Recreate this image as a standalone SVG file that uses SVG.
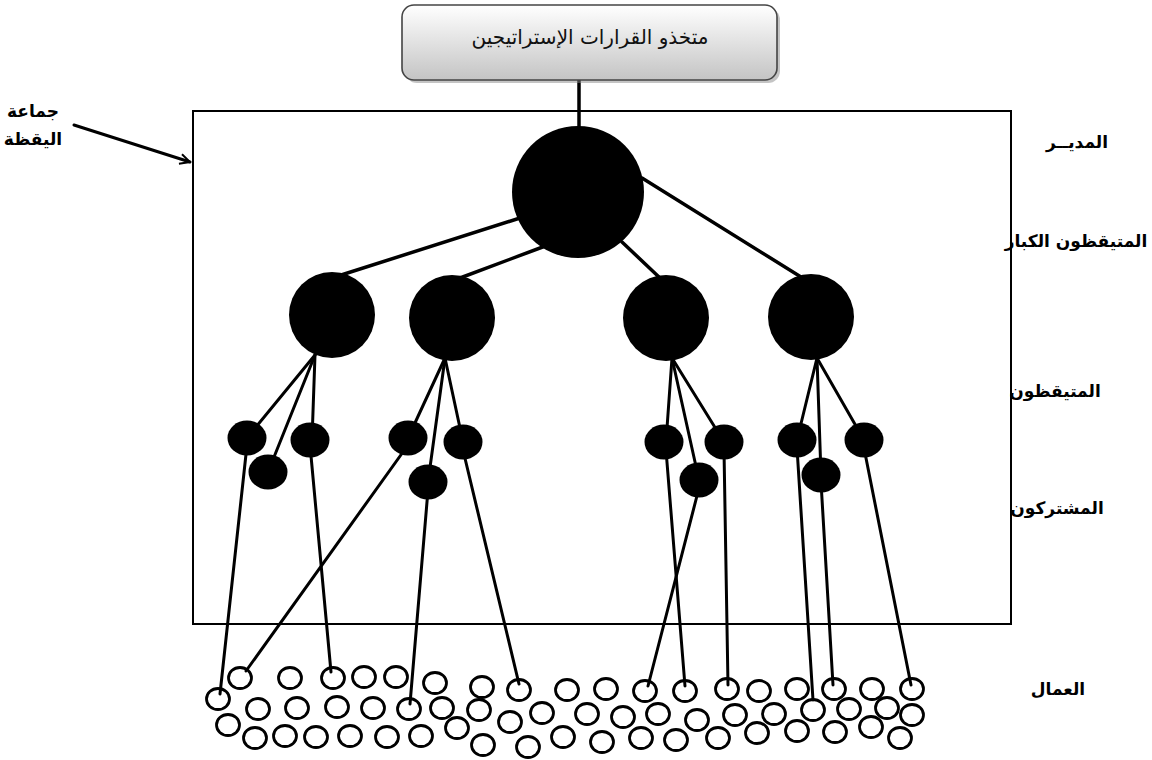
<svg xmlns="http://www.w3.org/2000/svg" width="1152" height="760" viewBox="0 0 1152 760">
<defs>
<linearGradient id="boxg" x1="0" y1="0" x2="0" y2="1">
<stop offset="0" stop-color="#ffffff"/>
<stop offset="1" stop-color="#c4c4c4"/>
</linearGradient>
<marker id="arr" viewBox="0 0 12 12" refX="11" refY="6" markerWidth="12" markerHeight="12" markerUnits="userSpaceOnUse" orient="auto">
<path d="M1,1 L11,6 L1,11" fill="none" stroke="#000" stroke-width="2"/>
</marker>
<style>
.lbl{font-family:"DejaVu Sans",sans-serif;font-weight:bold;font-size:17px;fill:#000;text-anchor:middle}
.e1{stroke:#000;stroke-width:3.5;fill:none;stroke-linecap:round}
.e2{stroke:#000;stroke-width:3;fill:none;stroke-linecap:round}
.big{fill:#000}
.w{fill:none;stroke:#000;stroke-width:2.8}
</style>
</defs>
<rect width="1152" height="760" fill="#ffffff"/>

<g id="frame">
<rect x="193" y="111" width="818" height="513" fill="none" stroke="#000" stroke-width="2"/>
</g>

<g id="connectors">
<line class="e1" x1="579" y1="80" x2="579" y2="132"/>
<line class="e1" x1="520" y1="218" x2="338" y2="276"/>
<line class="e1" x1="548" y1="245" x2="460" y2="278"/>
<line class="e1" x1="622" y1="242" x2="660" y2="278"/>
<line class="e1" x1="642" y1="178" x2="801" y2="277"/>
<line class="e2" x1="315" y1="355" x2="247" y2="438"/>
<line class="e2" x1="315" y1="355" x2="268" y2="472"/>
<line class="e2" x1="315" y1="355" x2="312" y2="440"/>
<line class="e2" x1="445" y1="358" x2="408" y2="438"/>
<line class="e2" x1="445" y1="358" x2="428" y2="482"/>
<line class="e2" x1="445" y1="358" x2="463" y2="442"/>
<line class="e2" x1="672" y1="358" x2="666" y2="442"/>
<line class="e2" x1="672" y1="358" x2="699" y2="480"/>
<line class="e2" x1="672" y1="358" x2="724" y2="442"/>
<line class="e2" x1="817" y1="358" x2="797" y2="440"/>
<line class="e2" x1="817" y1="358" x2="821" y2="475"/>
<line class="e2" x1="817" y1="358" x2="864" y2="440"/>
<line class="e2" x1="247" y1="445" x2="220" y2="694"/>
<line class="e2" x1="408" y1="445" x2="246" y2="671"/>
<line class="e2" x1="310" y1="445" x2="331" y2="672"/>
<line class="e2" x1="428" y1="490" x2="410" y2="704"/>
<line class="e2" x1="463" y1="450" x2="519" y2="684"/>
<line class="e2" x1="699" y1="488" x2="648" y2="686"/>
<line class="e2" x1="666" y1="450" x2="685" y2="686"/>
<line class="e2" x1="724" y1="450" x2="728" y2="685"/>
<line class="e2" x1="797" y1="448" x2="813" y2="700"/>
<line class="e2" x1="821" y1="482" x2="833" y2="685"/>
<line class="e2" x1="864" y1="448" x2="911" y2="685"/>
<line class="e2" x1="74" y1="125" x2="190" y2="162" marker-end="url(#arr)"/>
</g>

<g id="decision-makers">
<rect x="405" y="8" width="375" height="75" rx="12" fill="#8a8a8a" opacity="0.5"/>
<rect x="402" y="5" width="375" height="75" rx="12" fill="url(#boxg)" stroke="#444" stroke-width="1.6"/>
<text x="590" y="44" font-family="'DejaVu Sans',sans-serif" font-size="20" text-anchor="middle" fill="#111">متخذو القرارات الإستراتيجين</text>
</g>

<g id="manager"><circle class="big" cx="578" cy="192" r="66"/></g>

<g id="senior-vigilant">
<circle class="big" cx="332" cy="315" r="43"/>
<circle class="big" cx="452" cy="318" r="43"/>
<circle class="big" cx="666" cy="318" r="43"/>
<circle class="big" cx="811" cy="317" r="43"/>
</g>

<g id="vigilant">
<ellipse class="big" cx="247" cy="438" rx="19.5" ry="17.5"/>
<ellipse class="big" cx="268" cy="472" rx="19.5" ry="17.5"/>
<ellipse class="big" cx="310" cy="440" rx="19.5" ry="17.5"/>
<ellipse class="big" cx="408" cy="438" rx="19.5" ry="17.5"/>
<ellipse class="big" cx="428" cy="482" rx="19.5" ry="17.5"/>
<ellipse class="big" cx="463" cy="442" rx="19.5" ry="17.5"/>
<ellipse class="big" cx="664" cy="442" rx="19.5" ry="17.5"/>
<ellipse class="big" cx="699" cy="480" rx="19.5" ry="17.5"/>
<ellipse class="big" cx="724" cy="442" rx="19.5" ry="17.5"/>
<ellipse class="big" cx="797" cy="440" rx="19.5" ry="17.5"/>
<ellipse class="big" cx="821" cy="475" rx="19.5" ry="17.5"/>
<ellipse class="big" cx="864" cy="440" rx="19.5" ry="17.5"/>
</g>

<g id="workers">
<ellipse class="w" cx="240" cy="678" rx="11.5" ry="10.5"/>
<ellipse class="w" cx="290" cy="678" rx="11.5" ry="10.5"/>
<ellipse class="w" cx="333" cy="678" rx="11.5" ry="10.5"/>
<ellipse class="w" cx="364" cy="677" rx="11.5" ry="10.5"/>
<ellipse class="w" cx="396" cy="677" rx="11.5" ry="10.5"/>
<ellipse class="w" cx="435" cy="683" rx="11.5" ry="10.5"/>
<ellipse class="w" cx="482" cy="687" rx="11.5" ry="10.5"/>
<ellipse class="w" cx="519" cy="690" rx="11.5" ry="10.5"/>
<ellipse class="w" cx="567" cy="690" rx="11.5" ry="10.5"/>
<ellipse class="w" cx="606" cy="689" rx="11.5" ry="10.5"/>
<ellipse class="w" cx="645" cy="691" rx="11.5" ry="10.5"/>
<ellipse class="w" cx="685" cy="691" rx="11.5" ry="10.5"/>
<ellipse class="w" cx="727" cy="689" rx="11.5" ry="10.5"/>
<ellipse class="w" cx="759" cy="691" rx="11.5" ry="10.5"/>
<ellipse class="w" cx="797" cy="689" rx="11.5" ry="10.5"/>
<ellipse class="w" cx="834" cy="689" rx="11.5" ry="10.5"/>
<ellipse class="w" cx="872" cy="689" rx="11.5" ry="10.5"/>
<ellipse class="w" cx="912" cy="689" rx="11.5" ry="10.5"/>
<ellipse class="w" cx="218" cy="699" rx="11.5" ry="10.5"/>
<ellipse class="w" cx="258" cy="709" rx="11.5" ry="10.5"/>
<ellipse class="w" cx="297" cy="708" rx="11.5" ry="10.5"/>
<ellipse class="w" cx="337" cy="707" rx="11.5" ry="10.5"/>
<ellipse class="w" cx="373" cy="708" rx="11.5" ry="10.5"/>
<ellipse class="w" cx="409" cy="709" rx="11.5" ry="10.5"/>
<ellipse class="w" cx="442" cy="708" rx="11.5" ry="10.5"/>
<ellipse class="w" cx="479" cy="710" rx="11.5" ry="10.5"/>
<ellipse class="w" cx="510" cy="722" rx="11.5" ry="10.5"/>
<ellipse class="w" cx="542" cy="713" rx="11.5" ry="10.5"/>
<ellipse class="w" cx="587" cy="714" rx="11.5" ry="10.5"/>
<ellipse class="w" cx="623" cy="717" rx="11.5" ry="10.5"/>
<ellipse class="w" cx="658" cy="714" rx="11.5" ry="10.5"/>
<ellipse class="w" cx="697" cy="720" rx="11.5" ry="10.5"/>
<ellipse class="w" cx="735" cy="715" rx="11.5" ry="10.5"/>
<ellipse class="w" cx="774" cy="714" rx="11.5" ry="10.5"/>
<ellipse class="w" cx="813" cy="710" rx="11.5" ry="10.5"/>
<ellipse class="w" cx="849" cy="709" rx="11.5" ry="10.5"/>
<ellipse class="w" cx="887" cy="708" rx="11.5" ry="10.5"/>
<ellipse class="w" cx="912" cy="715" rx="11.5" ry="10.5"/>
<ellipse class="w" cx="228" cy="725" rx="11.5" ry="10.5"/>
<ellipse class="w" cx="255" cy="738" rx="11.5" ry="10.5"/>
<ellipse class="w" cx="285" cy="736" rx="11.5" ry="10.5"/>
<ellipse class="w" cx="316" cy="737" rx="11.5" ry="10.5"/>
<ellipse class="w" cx="350" cy="736" rx="11.5" ry="10.5"/>
<ellipse class="w" cx="387" cy="737" rx="11.5" ry="10.5"/>
<ellipse class="w" cx="421" cy="736" rx="11.5" ry="10.5"/>
<ellipse class="w" cx="457" cy="728" rx="11.5" ry="10.5"/>
<ellipse class="w" cx="483" cy="745" rx="11.5" ry="10.5"/>
<ellipse class="w" cx="528" cy="747" rx="11.5" ry="10.5"/>
<ellipse class="w" cx="563" cy="737" rx="11.5" ry="10.5"/>
<ellipse class="w" cx="602" cy="742" rx="11.5" ry="10.5"/>
<ellipse class="w" cx="641" cy="738" rx="11.5" ry="10.5"/>
<ellipse class="w" cx="676" cy="740" rx="11.5" ry="10.5"/>
<ellipse class="w" cx="718" cy="738" rx="11.5" ry="10.5"/>
<ellipse class="w" cx="757" cy="733" rx="11.5" ry="10.5"/>
<ellipse class="w" cx="797" cy="731" rx="11.5" ry="10.5"/>
<ellipse class="w" cx="835" cy="732" rx="11.5" ry="10.5"/>
<ellipse class="w" cx="871" cy="727" rx="11.5" ry="10.5"/>
<ellipse class="w" cx="900" cy="738" rx="11.5" ry="10.5"/>
</g>

<g id="vigilance-group-label">
<text class="lbl" x="33" y="117">جماعة</text>
<text class="lbl" x="33" y="145">اليقظة</text>
</g>

<g id="level-labels">
<text class="lbl" x="1077" y="148">المديــر</text>
<text class="lbl" x="1076" y="247">المتيقظون الكبار</text>
<text class="lbl" x="1055" y="397">المتيقظون</text>
<text class="lbl" x="1057" y="514">المشتركون</text>
<text class="lbl" x="1058" y="695">العمال</text>
</g>
</svg>
